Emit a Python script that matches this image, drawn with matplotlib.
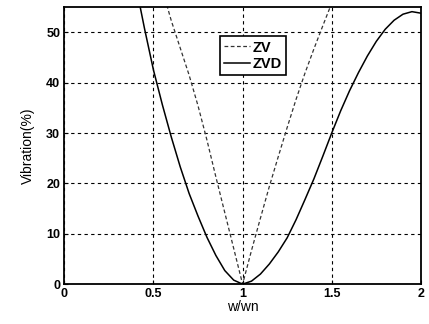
import numpy as np
import matplotlib
matplotlib.use('Agg')
import matplotlib.pyplot as plt

plt.rcParams['font.family'] = ['Liberation Sans', 'DejaVu Sans']

# Curvas (frecuencia normalizada w/wn vs vibracion %)
zv_x = [0.55, 0.60, 0.65, 0.70, 0.75, 0.80, 0.85, 0.90, 0.95, 1.00,
        1.05, 1.10, 1.15, 1.20, 1.25, 1.30, 1.35, 1.40, 1.45, 1.50]
zv_y = [58.5, 52.3, 46.9, 41.5, 35.4, 28.6, 21.3, 14.2, 7.1, 0.0,
        6.7, 13.1, 19.4, 25.3, 31.1, 36.7, 41.9, 46.7, 51.3, 55.8]

zvd_x = [0.40, 0.45, 0.50, 0.55, 0.60, 0.65, 0.70, 0.75, 0.80, 0.85,
         0.90, 0.95, 1.00, 1.05, 1.10, 1.15, 1.20, 1.25, 1.30, 1.35,
         1.40, 1.45, 1.50, 1.55, 1.60, 1.65, 1.70, 1.75, 1.80, 1.85,
         1.90, 1.95, 2.00]
zvd_y = [59.5, 50.7, 42.5, 35.6, 29.2, 23.3, 18.0, 13.5, 9.3, 5.7,
         2.7, 0.8, 0.0, 0.6, 2.0, 4.0, 6.4, 9.2, 12.8, 16.8,
         20.9, 25.4, 30.0, 34.4, 38.4, 42.0, 45.3, 48.2, 50.6, 52.4,
         53.6, 54.1, 53.8]

x_ticks = [0, 0.5, 1, 1.5, 2]
x_labels = ['0', '0.5', '1', '1.5', '2']
y_ticks = [0, 10, 20, 30, 40, 50]

fig = plt.figure(figsize=(4.29, 3.24), dpi=100)
ax = fig.add_axes([0.150, 0.123, 0.831, 0.855])

ax.plot(zv_x, zv_y, color='#333333', linestyle=(0, (3, 2)), linewidth=0.9, label='ZV')
ax.plot(zvd_x, zvd_y, color='black', linestyle='-', linewidth=1.1, label='ZVD')

ax.set_xlim(0, 2)
ax.set_ylim(0, 55)
ax.set_xticks(x_ticks)
ax.set_xticklabels(x_labels, fontweight='bold', fontsize=9)
ax.set_yticks(y_ticks)
ax.set_yticklabels([str(v) for v in y_ticks], fontweight='bold', fontsize=9)
ax.tick_params(direction='in', length=3, pad=3)

ax.grid(True, color='black', linestyle=(0, (3, 3)), linewidth=0.8)
for s in ax.spines.values():
    s.set_linewidth(1.3)

ax.set_xlabel('w/wn', fontsize=10, labelpad=0)
ax.set_ylabel('Vibration(%)', fontsize=10, labelpad=8)

leg = ax.legend(loc='upper left', bbox_to_anchor=(0.436, 0.895), fontsize=10.5,
                frameon=True, fancybox=False, handlelength=1.8, handletextpad=0.15,
                borderpad=0.3, labelspacing=0.15, borderaxespad=0)
leg.get_frame().set_edgecolor('black')
leg.get_frame().set_linewidth(1.2)
leg.get_frame().set_alpha(1)
for t in leg.get_texts():
    t.set_fontweight('bold')

plt.savefig('out.png', dpi=100)
